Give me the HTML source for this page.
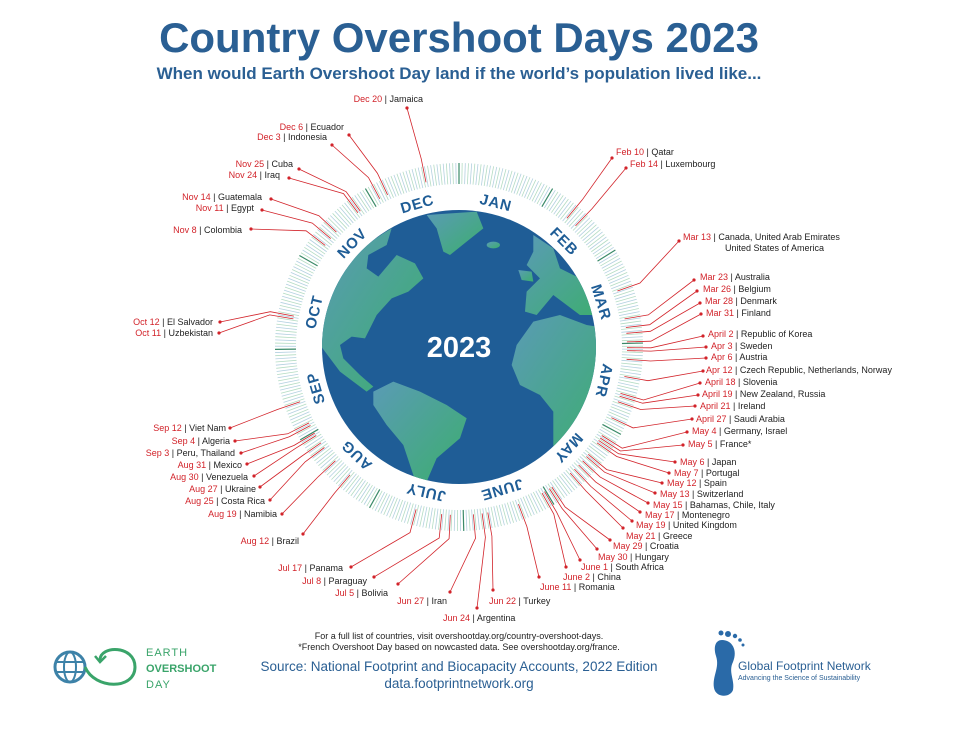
<!DOCTYPE html>
<html><head><meta charset="utf-8"><style>
html,body{margin:0;padding:0;background:#fff;}
svg{display:block;font-family:"Liberation Sans",sans-serif;}
.l{font-size:9px;fill:#222;}
.e{text-anchor:end;}
.d{fill:#d2232a;}
.m{font-size:15px;font-weight:bold;fill:#1f5d96;text-anchor:middle;letter-spacing:0.8px;}
</style></head><body>
<svg id="s" width="971" height="738" viewBox="0 0 971 738" xmlns="http://www.w3.org/2000/svg">
<defs>
<linearGradient id="lg" x1="0" y1="0" x2="1" y2="1"><stop offset="0" stop-color="#5a9bb5"/><stop offset="1" stop-color="#3cae6e"/></linearGradient>
<clipPath id="gc"><circle cx="459" cy="347" r="137"/></clipPath>
</defs>
<text x="459" y="52" text-anchor="middle" font-size="42" font-weight="bold" fill="#2a5f93">Country Overshoot Days 2023</text>
<text x="459" y="79" text-anchor="middle" font-size="17" font-weight="bold" fill="#2a5f93">When would Earth Overshoot Day land if the world’s population lived like...</text>
<g id="ticks"></g>
<g id="lines" stroke="#d2232a" stroke-width="0.8" fill="none"></g>
<g id="dots" fill="#d2232a"></g>
<circle cx="459" cy="347" r="137" fill="#1f5d96"/>
<g clip-path="url(#gc)"><g transform="translate(320,205) scale(0.3333)" fill="url(#lg)">
<path d="M0,420 L0,300 Q60,160 215,70 L200,120 L145,150 L140,190 L175,215 L230,150 L285,175 L310,220 L265,260 L215,280 L170,330 L135,400 L95,395 L60,420 L70,460 L120,510 L160,545 L140,560 L60,500 Z"/>
<path d="M320,30 L470,20 L490,70 L440,110 L390,150 L370,140 L350,70 Z"/>
<ellipse cx="520" cy="120" rx="20" ry="10"/>
<path d="M640,90 L700,130 L720,190 L800,230 L860,260 L860,330 L780,330 L740,300 L700,270 L650,330 L615,320 L620,260 L660,220 L620,180 L640,140 Z"/>
<path d="M595,195 L635,200 L640,230 L605,225 Z"/>
<path d="M590,420 L640,350 L720,330 L800,360 L860,370 L860,560 L760,700 L700,760 L700,620 L660,570 L600,540 L575,480 Z"/>
<path d="M160,560 L220,530 L300,560 L380,600 L440,640 L420,700 L350,760 L320,830 L290,840 L250,720 L200,660 L160,600 Z"/>
</g></g>
<text x="459" y="357" text-anchor="middle" font-size="29" font-weight="bold" fill="#fff">2023</text>
<g id="months"></g>

<g class="l">
<text x="616" y="155"><tspan class="d">Feb 10</tspan> | Qatar</text>
<text x="630" y="167"><tspan class="d">Feb 14</tspan> | Luxembourg</text>
<text x="683" y="240"><tspan class="d">Mar 13</tspan> | Canada, United Arab Emirates</text>
<text x="725" y="251">United States of America</text>
<text x="700" y="280"><tspan class="d">Mar 23</tspan> | Australia</text>
<text x="703" y="292"><tspan class="d">Mar 26</tspan> | Belgium</text>
<text x="705" y="304"><tspan class="d">Mar 28</tspan> | Denmark</text>
<text x="706" y="316"><tspan class="d">Mar 31</tspan> | Finland</text>
<text x="708" y="337"><tspan class="d">April 2</tspan> | Republic of Korea</text>
<text x="711" y="349"><tspan class="d">Apr 3</tspan> | Sweden</text>
<text x="711" y="360"><tspan class="d">Apr 6</tspan> | Austria</text>
<text x="706" y="373"><tspan class="d">Apr 12</tspan> | Czech Republic, Netherlands, Norway</text>
<text x="705" y="385"><tspan class="d">April 18</tspan> | Slovenia</text>
<text x="702" y="397"><tspan class="d">April 19</tspan> | New Zealand, Russia</text>
<text x="700" y="409"><tspan class="d">April 21</tspan> | Ireland</text>
<text x="696" y="422"><tspan class="d">April 27</tspan> | Saudi Arabia</text>
<text x="692" y="434"><tspan class="d">May 4</tspan> | Germany, Israel</text>
<text x="688" y="447"><tspan class="d">May 5</tspan> | France*</text>
<text x="680" y="465"><tspan class="d">May 6</tspan> | Japan</text>
<text x="674" y="476"><tspan class="d">May 7</tspan> | Portugal</text>
<text x="667" y="486"><tspan class="d">May 12</tspan> | Spain</text>
<text x="660" y="497"><tspan class="d">May 13</tspan> | Switzerland</text>
<text x="653" y="508"><tspan class="d">May 15</tspan> | Bahamas, Chile, Italy</text>
<text x="645" y="518"><tspan class="d">May 17</tspan> | Montenegro</text>
<text x="636" y="528"><tspan class="d">May 19</tspan> | United Kingdom</text>
<text x="626" y="539"><tspan class="d">May 21</tspan> | Greece</text>
<text x="613" y="549"><tspan class="d">May 29</tspan> | Croatia</text>
<text x="598" y="560"><tspan class="d">May 30</tspan> | Hungary</text>
<text x="581" y="570"><tspan class="d">June 1</tspan> | South Africa</text>
<text x="563" y="580"><tspan class="d">June 2</tspan> | China</text>
<text x="540" y="590"><tspan class="d">June 11</tspan> | Romania</text>
<text x="489" y="604"><tspan class="d">Jun 22</tspan> | Turkey</text>
<text x="443" y="621"><tspan class="d">Jun 24</tspan> | Argentina</text>
</g>
<g class="l e">
<text x="447" y="604"><tspan class="d">Jun 27</tspan> | Iran</text>
<text x="423" y="102"><tspan class="d">Dec 20</tspan> | Jamaica</text>
<text x="344" y="130"><tspan class="d">Dec 6</tspan> | Ecuador</text>
<text x="327" y="140"><tspan class="d">Dec 3</tspan> | Indonesia</text>
<text x="293" y="167"><tspan class="d">Nov 25</tspan> | Cuba</text>
<text x="280" y="178"><tspan class="d">Nov 24</tspan> | Iraq</text>
<text x="262" y="200"><tspan class="d">Nov 14</tspan> | Guatemala</text>
<text x="254" y="211"><tspan class="d">Nov 11</tspan> | Egypt</text>
<text x="242" y="233"><tspan class="d">Nov 8</tspan> | Colombia</text>
<text x="213" y="325"><tspan class="d">Oct 12</tspan> | El Salvador</text>
<text x="213" y="336"><tspan class="d">Oct 11</tspan> | Uzbekistan</text>
<text x="226" y="431"><tspan class="d">Sep 12</tspan> | Viet Nam</text>
<text x="230" y="444"><tspan class="d">Sep 4</tspan> | Algeria</text>
<text x="235" y="456"><tspan class="d">Sep 3</tspan> | Peru, Thailand</text>
<text x="242" y="468"><tspan class="d">Aug 31</tspan> | Mexico</text>
<text x="248" y="480"><tspan class="d">Aug 30</tspan> | Venezuela</text>
<text x="256" y="492"><tspan class="d">Aug 27</tspan> | Ukraine</text>
<text x="265" y="504"><tspan class="d">Aug 25</tspan> | Costa Rica</text>
<text x="277" y="517"><tspan class="d">Aug 19</tspan> | Namibia</text>
<text x="299" y="544"><tspan class="d">Aug 12</tspan> | Brazil</text>
<text x="343" y="571"><tspan class="d">Jul 17</tspan> | Panama</text>
<text x="367" y="584"><tspan class="d">Jul 8</tspan> | Paraguay</text>
<text x="388" y="596"><tspan class="d">Jul 5</tspan> | Bolivia</text>
</g>

<text x="459" y="639" text-anchor="middle" font-size="9" fill="#222">For a full list of countries, visit overshootday.org/country-overshoot-days.</text>
<text x="459" y="650" text-anchor="middle" font-size="9" fill="#222">*French Overshoot Day based on nowcasted data. See overshootday.org/france.</text>
<text x="459" y="671" text-anchor="middle" font-size="13.5" fill="#2a5f93">Source: National Footprint and Biocapacity Accounts, 2022 Edition</text>
<text x="459" y="688" text-anchor="middle" font-size="13.5" fill="#2a5f93">data.footprintnetwork.org</text>

<g>
<circle cx="70" cy="667" r="15" fill="none" stroke="#3d82a8" stroke-width="3"/>
<ellipse cx="70" cy="667" rx="6" ry="15" fill="none" stroke="#3d82a8" stroke-width="2"/>
<line x1="55" y1="662" x2="85" y2="662" stroke="#3d82a8" stroke-width="2"/>
<line x1="55" y1="672" x2="85" y2="672" stroke="#3d82a8" stroke-width="2"/>
<path d="M85,667 C95,690 135,690 135,667 C135,645 100,645 100,660" fill="none" stroke="#3aa46a" stroke-width="3"/>
<path d="M95,656 L100,662 L106,656" fill="none" stroke="#3aa46a" stroke-width="2.5"/>
<text x="146" y="656" font-size="11" fill="#3aa46a" letter-spacing="1">EARTH</text>
<text x="146" y="672" font-size="11" font-weight="bold" fill="#3aa46a">OVERSHOOT</text>
<text x="146" y="688" font-size="11" fill="#3aa46a" letter-spacing="1">DAY</text>
</g>
<g fill="#2a6aa8">
<path d="M722,640 C732,640 738,650 733,662 C728,672 735,680 733,690 C730,698 716,698 714,688 C712,676 720,668 716,656 C713,646 716,640 722,640 Z"/>
<circle cx="728" cy="634" r="3"/><circle cx="735" cy="636" r="2.2"/><circle cx="740" cy="640" r="1.8"/><circle cx="743" cy="645" r="1.5"/><circle cx="721" cy="633" r="2.5"/>
</g>
<text x="738" y="670" font-size="12" fill="#2a5f93">Global Footprint Network</text>
<text x="738" y="680" font-size="7" fill="#2a5f93">Advancing the Science of Sustainability</text>
</svg>
<script>
(function(){
var cx=459,cy=347;
function P(R,day){var a=(day-0.5)/365*2*Math.PI;return [cx+R*Math.sin(a),cy-R*Math.cos(a)];}
var mstart=[0,31,59,90,120,151,181,212,243,273,304,334];
var t=document.getElementById("ticks"),h="";
for(var d=0;d<365;d++){var a=P(163,d+0.5),b=P(184,d+0.5);var dark=mstart.indexOf(d)>=0;
var c=dark?"#3a8a68":(d%2?"#b4dcc3":"#b3d0e0");
h+='<line x1="'+a[0].toFixed(2)+'" y1="'+a[1].toFixed(2)+'" x2="'+b[0].toFixed(2)+'" y2="'+b[1].toFixed(2)+'" stroke="'+c+'" stroke-width="'+(dark?1.2:0.8)+'"/>';}
t.innerHTML=h;
var L=[[41,612,158],[45,626,168],[72,679,241],[82,694,280],[85,697,291],[87,700,303],[90,701,314],[92,703,336],[93,706,347],[96,706,358],[102,703,371],[108,700,383],[109,698,395],[111,695,406],[117,692,419],[124,687,432],[125,683,445],[126,675,462],[127,669,473],[132,662,483],[133,655,493],[135,648,503],[137,640,512],[139,632,521],[141,623,528],[149,610,540],[150,597,549],[152,580,560],[153,566,567],[162,539,577],[173,493,590],[175,477,608],[178,450,592],[186,398,584],[189,374,577],[198,351,567],[224,303,534],[231,282,514],[237,270,500],[239,260,487],[242,254,476],[243,247,464],[246,241,453],[247,235,441],[255,230,428],[284,219,333],[285,220,322],[312,251,229],[315,262,210],[318,271,199],[328,289,178],[329,299,169],[337,332,145],[340,349,135],[354,407,108]];
var lh="",dh="";
L.forEach(function(e){var a=P(168,e[0]),b=P(192,e[0]);
lh+='<path d="M'+a[0].toFixed(1)+','+a[1].toFixed(1)+' L'+b[0].toFixed(1)+','+b[1].toFixed(1)+' L'+e[1]+','+e[2]+'"/>';
dh+='<circle cx="'+e[1]+'" cy="'+e[2]+'" r="1.6"/>';});
document.getElementById("lines").innerHTML=lh;document.getElementById("dots").innerHTML=dh;
var M=["JAN","FEB","MAR","APR","MAY","JUNE","JULY","AUG","SEP","OCT","NOV","DEC"],mh="";
for(var i=0;i<12;i++){var mid=mstart[i]+15;var ang=(mid-0.5)/365*360;
mh+='<text class="m" x="'+cx+'" y="'+(cy-144)+'" transform="rotate('+ang.toFixed(2)+' '+cx+' '+cy+')">'+M[i]+'</text>';}
document.getElementById("months").innerHTML=mh;
})();
</script>
</body></html>
